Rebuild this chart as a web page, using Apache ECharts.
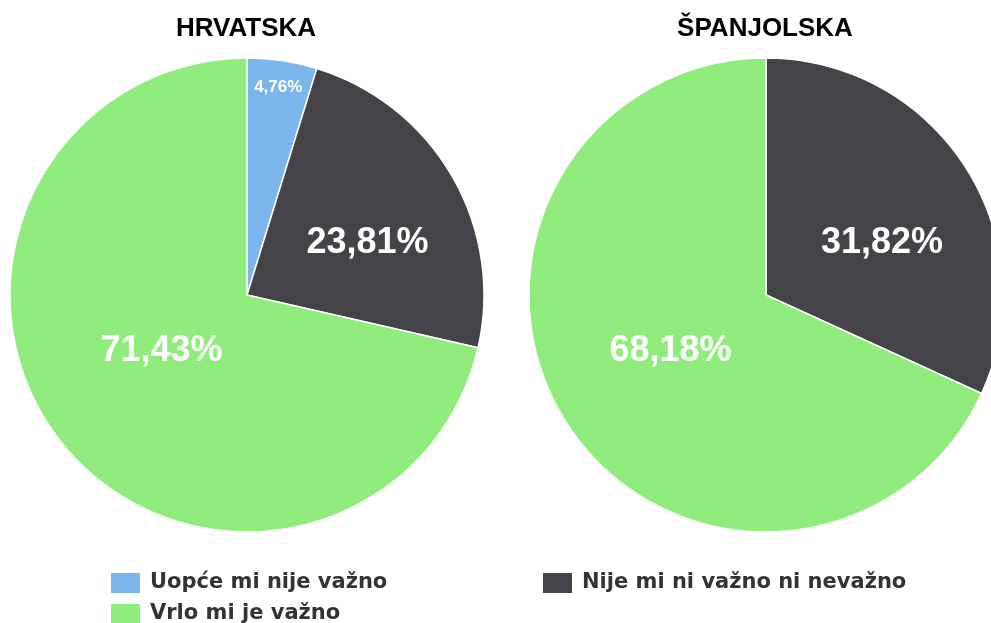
<!DOCTYPE html>
<html>
<head>
<meta charset="utf-8">
<script src="https://cdn.jsdelivr.net/npm/echarts@6/dist/echarts.min.js"></script>
<style>
  html, body { margin: 0; padding: 0; background: #ffffff; }
  #chart { width: 991px; height: 623px; }
</style>
</head>
<body>
<div id="chart"></div>
<script>
// Answer categories (legend order) and their colours
const categories = ['Uopće mi nije važno', 'Nije mi ni važno ni nevažno', 'Vrlo mi je važno'];
const categoryColors = ['#7cb5ec', '#434348', '#90ed7d'];

// Countries and their shares (%) per category, same order as categories
const countries = ['HRVATSKA', 'ŠPANJOLSKA'];
const hrvatskaValues = [4.76, 23.81, 71.43];
const spanjolskaValues = [0, 31.82, 68.18];

// Layout / styling
const pieCenters = [[247, 295], [766, 295]];
const pieRadius = 237;
// label placement per slice: distance from centre (fraction of radius)
// and a small angular shift (degrees) off the slice bisector
const labelRadiusFactor = [[0.885, 0.554, 0.431], [0.885, 0.537, 0.466]];
const labelAngleShift = [[0, 6.7, 5.4], [0, 8.4, 2.5]];
const labelFontSizes = [[17, 36, 36], [17, 36, 36]];

const valueSets = [hrvatskaValues, spanjolskaValues];

function buildData(values, s) {
  const out = [];
  values.forEach(function (v, i) {
    if (v > 0) {
      out.push({
        name: categories[i],
        value: v,
        itemStyle: { color: categoryColors[i] },
        label: { fontSize: labelFontSizes[s][i] },
        catIndex: i
      });
    }
  });
  return out;
}

const seriesData = valueSets.map(buildData);

function formatPct(v) {
  return v.toFixed(2).replace('.', ',') + '%';
}

// Places each label near its slice's bisector at a per-category radius
function labelLayoutFor(s) {
  return function (params) {
    const data = seriesData[s];
    const total = data.reduce(function (a, d) { return a + d.value; }, 0);
    let before = 0;
    for (let k = 0; k < params.dataIndex; k++) before += data[k].value;
    const item = data[params.dataIndex];
    const mid = (before + item.value / 2) / total * Math.PI * 2 +
      labelAngleShift[s][item.catIndex] * Math.PI / 180;
    const r = pieRadius * labelRadiusFactor[s][item.catIndex];
    return {
      x: pieCenters[s][0] + r * Math.sin(mid),
      y: pieCenters[s][1] - r * Math.cos(mid)
    };
  };
}

const legendText = {
  fontFamily: 'DejaVu Sans, Verdana, sans-serif',
  fontWeight: 'bold',
  fontSize: 21,
  color: '#333333',
  padding: [0, 0, 0, 4]
};

const chart = echarts.init(document.getElementById('chart'), null, { renderer: 'canvas' });

const option = {
  backgroundColor: '#ffffff',
  animation: false,
  title: countries.map(function (c, s) {
    return {
      text: c,
      left: pieCenters[s][0] - 1,
      top: 16,
      padding: 0,
      textAlign: 'center',
      textStyle: {
        fontFamily: 'Liberation Sans, Arial, sans-serif',
        fontWeight: 'bold',
        fontSize: 26,
        color: '#000000'
      }
    };
  }),
  legend: [
    {
      data: [categories[0], categories[2]],
      orient: 'vertical',
      left: 109,
      top: 571,
      height: 60,
      padding: 0,
      itemWidth: 31,
      itemHeight: 22,
      itemGap: 7,
      icon: 'rect',
      selectedMode: false,
      textStyle: legendText
    },
    {
      data: [categories[1]],
      orient: 'vertical',
      left: 541,
      top: 571,
      padding: 0,
      itemWidth: 31,
      itemHeight: 22,
      icon: 'rect',
      selectedMode: false,
      textStyle: legendText
    }
  ],
  series: seriesData.map(function (data, s) {
    return {
      type: 'pie',
      name: countries[s],
      center: pieCenters[s],
      radius: pieRadius,
      startAngle: 90,
      clockwise: true,
      avoidLabelOverlap: false,
      itemStyle: { borderColor: '#ffffff', borderWidth: 1.5 },
      emphasis: { disabled: true },
      label: {
        show: true,
        position: 'inside',
        formatter: function (p) { return formatPct(p.value); },
        color: '#ffffff',
        fontFamily: 'Liberation Sans, Arial, sans-serif',
        fontWeight: 'bold'
      },
      labelLine: { show: false },
      labelLayout: labelLayoutFor(s),
      data: data
    };
  })
};

chart.setOption(option);
</script>
</body>
</html>
